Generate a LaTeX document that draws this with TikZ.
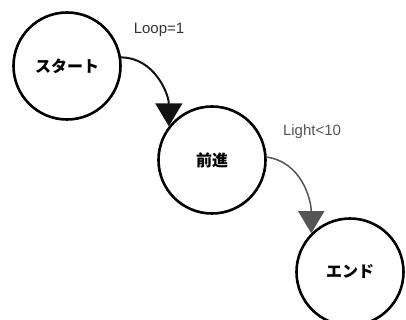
\documentclass[tikz,border=0pt]{standalone}
\usepackage{fontspec}
\setmainfont{Liberation Sans}
\newfontfamily\cjk{Noto Sans CJK JP}
\usetikzlibrary{arrows.meta}
\definecolor{darkline}{HTML}{111111}
\definecolor{greyline}{HTML}{555555}
\definecolor{labeltxt}{HTML}{333333}
\definecolor{labelgrey}{HTML}{555555}
\tikzset{
  state/.style={circle, draw=black, line width=2.6pt, minimum size=107pt, inner sep=0pt,
    font=\cjk\bfseries\fontsize{16}{18}\selectfont},
  trans/.style={line width=2pt, draw=darkline,
    -{Triangle[width=27pt,length=23pt]}},
  transgrey/.style={line width=1.5pt, draw=greyline,
    -{Triangle[width=26pt,length=22pt]}},
  lbl/.style={font=\fontsize{15}{17}\selectfont, inner sep=0pt}
}
\begin{document}
\begin{tikzpicture}[x=1pt,y=1pt]
\useasboundingbox (0,0) rectangle (406,320);
\node[state] (start) at (67,254) {スタート};
\node[state] (fwd) at (212,160) {前進};
\node[state] (end) at (350,48) {エンド};
\draw[trans] (start.9) to[out=0,in=90] (fwd.142);
\draw[transgrey] (fwd.3) to[out=-8,in=90] (end.135);
\node[lbl, text=labeltxt] (l1) at (159,290) {Loop=1};
\node[lbl, text=labelgrey] (l2) at (312,188) {Light<10};
\end{tikzpicture}
\end{document}
